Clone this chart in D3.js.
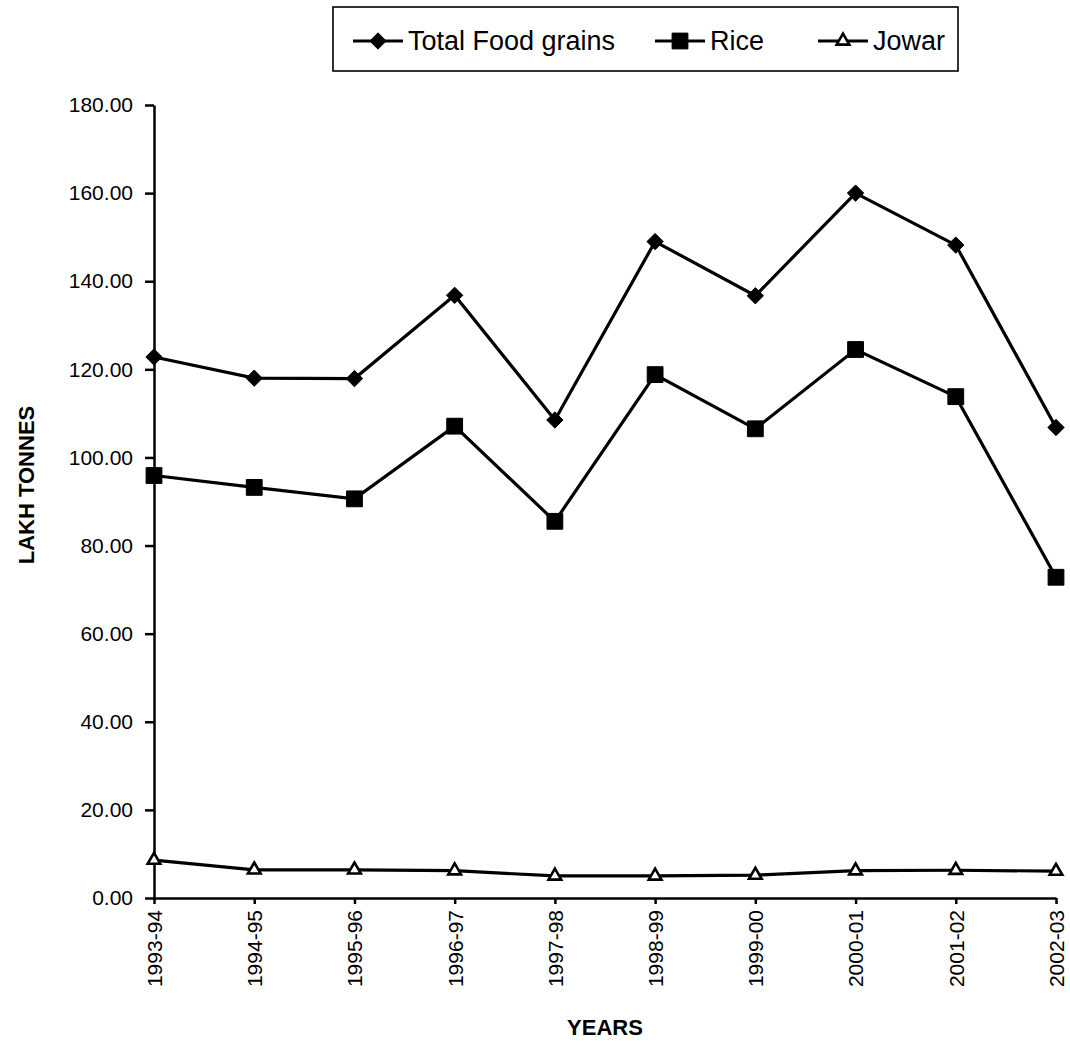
<!DOCTYPE html>
<html lang="en">
<head>
<meta charset="utf-8">
<title>Food grains production</title>
<script src="https://d3js.org/d3.v7.min.js"></script>
<style>
  body { margin: 0; background: #fff; }
  text { font-family: Arial, "Liberation Sans", sans-serif; fill: #000; }
</style>
</head>
<body>
<div id="main"></div>
<script>
  var years = ["1993-94", "1994-95", "1995-96", "1996-97", "1997-98",
               "1998-99", "1999-00", "2000-01", "2001-02", "2002-03"];
  var totalFood = [122.8, 118.0, 117.9, 136.8, 108.5, 149.0, 136.7, 160.0, 148.2, 106.8];
  var rice = [95.9, 93.2, 90.6, 107.1, 85.5, 118.8, 106.5, 124.5, 113.8, 72.8];
  var jowar = [8.6, 6.4, 6.4, 6.2, 5.0, 5.0, 5.2, 6.2, 6.3, 6.1];
  var seriesNames = ["Total Food grains", "Rice", "Jowar"];
  var yTicks = [0, 20, 40, 60, 80, 100, 120, 140, 160, 180];

  var width = 1070, height = 1047;
  var plotLeft = 154, plotRight = 1056, plotTop = 105, plotBottom = 898;

  var svg = d3.select("#main").append("svg")
    .attr("width", width)
    .attr("height", height);

  var x = d3.scalePoint().domain(years).range([plotLeft, plotRight]);
  var y = d3.scaleLinear().domain([0, 180]).range([plotBottom, plotTop]);

  // y axis
  var yAxis = svg.append("g")
    .attr("transform", "translate(" + plotLeft + ",0)")
    .call(d3.axisLeft(y).tickValues(yTicks).tickFormat(d3.format(".2f"))
      .tickSize(9).tickSizeOuter(0).tickPadding(12));
  yAxis.selectAll("path, line").attr("stroke", "#000").attr("stroke-width", 2.5);
  yAxis.selectAll("text").attr("font-size", 21).style("font-family", "Arial, 'Liberation Sans', sans-serif");

  // x axis
  var xAxis = svg.append("g")
    .attr("transform", "translate(0," + plotBottom + ")")
    .call(d3.axisBottom(x).tickSize(6).tickSizeOuter(0).tickPadding(10));
  xAxis.selectAll("path, line").attr("stroke", "#000").attr("stroke-width", 2.5);
  xAxis.selectAll("text")
    .attr("font-size", 21)
    .style("font-family", "Arial, 'Liberation Sans', sans-serif")
    .attr("text-anchor", "end")
    .attr("transform", "rotate(-90)")
    .attr("x", -12)
    .attr("y", 0)
    .attr("dy", "0.35em");

  // axis titles
  svg.append("text")
    .attr("x", (plotLeft + plotRight) / 2)
    .attr("y", 1035)
    .attr("text-anchor", "middle")
    .attr("font-weight", "bold")
    .attr("font-size", 22)
    .text("YEARS");

  svg.append("text")
    .attr("transform", "translate(34,485) rotate(-90)")
    .attr("text-anchor", "middle")
    .attr("font-weight", "bold")
    .attr("font-size", 22)
    .text("LAKH  TONNES");

  var line = d3.line()
    .x(function(d, i) { return x(years[i]); })
    .y(function(d) { return y(d); });

  var diamond = d3.symbol().type(d3.symbolDiamond2).size(170);
  var square = d3.symbol().type(d3.symbolSquare).size(250);
  var triangle = d3.symbol().type(d3.symbolTriangle2).size(115);

  var series = [
    { name: seriesNames[0], values: totalFood, sym: diamond, fill: "#000" },
    { name: seriesNames[1], values: rice, sym: square, fill: "#000" },
    { name: seriesNames[2], values: jowar, sym: triangle, fill: "#fff" }
  ];

  series.forEach(function(s) {
    svg.append("path")
      .datum(s.values)
      .attr("d", line)
      .attr("fill", "none")
      .attr("stroke", "#000")
      .attr("stroke-width", 3.2);

    svg.append("g").selectAll("path")
      .data(s.values)
      .enter().append("path")
      .attr("d", s.sym)
      .attr("transform", function(d, i) {
        return "translate(" + x(years[i]) + "," + y(d) + ")";
      })
      .attr("fill", s.fill)
      .attr("stroke", "#000")
      .attr("stroke-width", s.fill === "#fff" ? 2.6 : 1);
  });

  // legend
  var legend = svg.append("g");
  legend.append("rect")
    .attr("x", 333).attr("y", 7)
    .attr("width", 625).attr("height", 64)
    .attr("fill", "none")
    .attr("stroke", "#000")
    .attr("stroke-width", 1.6);

  var legendStarts = [353, 655, 818];
  series.forEach(function(s, i) {
    var g = legend.append("g").attr("transform", "translate(" + legendStarts[i] + ",41)");
    g.append("line").attr("x1", 0).attr("x2", 50).attr("y1", 0).attr("y2", 0)
      .attr("stroke", "#000").attr("stroke-width", 3);
    g.append("path").attr("d", s.sym).attr("transform", "translate(25,0)")
      .attr("fill", s.fill).attr("stroke", "#000")
      .attr("stroke-width", s.fill === "#fff" ? 2.6 : 1);
    g.append("text").attr("x", 55).attr("dy", "0.35em")
      .attr("font-size", 27).text(s.name);
  });
</script>
</body>
</html>
